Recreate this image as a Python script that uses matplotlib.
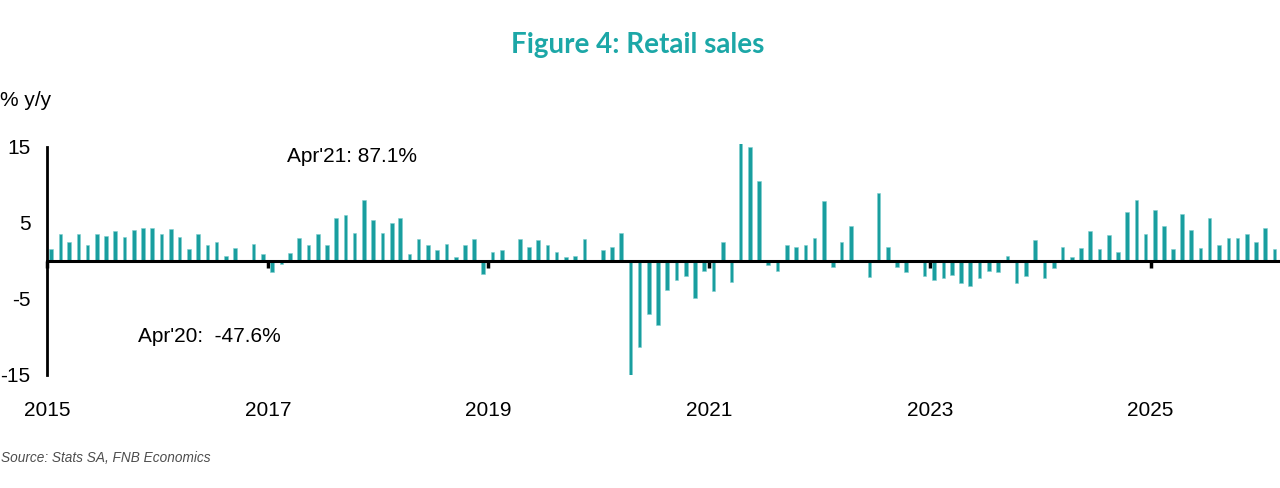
import numpy as np
import pandas as pd
import matplotlib as mpl
mpl.use("Agg")
import matplotlib.pyplot as plt

mpl.rcParams.update({
    "font.family": ["Liberation Sans", "DejaVu Sans"],
    "axes.unicode_minus": False,
})

# ===== DATA (retail sales, % y/y, monthly) =====
START = "2015-01-01"
y2015 = [1.6, 3.55, 2.5, 3.55, 2.1, 3.55, 3.3, 3.9, 3.2, 4.1, 4.4, 4.4]
y2016 = [3.55, 4.25, 3.2, 1.6, 3.55, 2.1, 2.5, 0.7, 1.75, 0.05, 2.3, 0.9]
y2017 = [-1.5, -0.35, 1.05, 3.0, 2.1, 3.55, 2.1, 5.7, 6.05, 3.7, 8.0, 5.35]
y2018 = [3.7, 4.95, 5.7, 0.9, 2.85, 2.1, 1.4, 2.3, 0.5, 2.1, 2.85, -1.65]
y2019 = [1.2, 1.4, 0.05, 2.85, 1.9, 2.7, 2.1, 1.2, 0.5, 0.7, 2.85, 0.05]
y2020 = [1.4, 1.9, 3.7, -47.6, -11.3, -7.0, -8.4, -3.8, -2.5, -2.0, -4.9, -1.3]
y2021 = [-4.0, 2.45, -2.8, 87.1, 15.0, 10.5, -0.5, -1.3, 2.1, 1.9, 2.1, 3.0]
y2022 = [7.85, -0.75, 2.45, 4.65, 0.05, -2.15, 8.9, 1.9, -0.75, -1.45, 0.05, -2.0]
y2023 = [-2.55, -2.2, -1.85, -2.9, -3.25, -2.2, -1.3, -1.5, 0.7, -2.9, -2.0, 2.7]
y2024 = [-2.2, -0.9, 1.9, 0.5, 1.75, 3.9, 1.6, 3.4, 1.2, 6.4, 8.0, 3.55]
y2025 = [6.75, 4.65, 1.6, 6.2, 4.1, 1.75, 5.7, 2.1, 3.0, 3.0, 3.55, 2.45]
y2026 = [4.4, 1.6]

YTICKS = [-15, -5, 5, 15]
XTICK_YEARS = [2015, 2017, 2019, 2021, 2023, 2025]

TITLE = "Figure 4: Retail sales"
UNIT = "% y/y"
NOTE_PEAK = "Apr'21: 87.1%"
NOTE_TROUGH = "Apr'20:  -47.6%"
SOURCE = "Source: Stats SA, FNB Economics"

# Colors
CLR_BAR = "#199E9F"
CLR_TITLE = "#1CA7A7"
CLR_SRC = "#4D4D4D"

# ===== BUILD SERIES =====
values = np.array(y2015 + y2016 + y2017 + y2018 + y2019 + y2020
                  + y2021 + y2022 + y2023 + y2024 + y2025 + y2026)
months = pd.date_range(START, periods=len(values), freq="MS") + pd.Timedelta(days=14)

# ===== PLOT =====
fig = plt.figure(figsize=(12.8, 4.88), dpi=100)
ax = fig.add_axes([0.0367, 0.2316, 0.9633, 0.4734])

ax.bar(months, values, width=12, color=CLR_BAR, edgecolor="#7FCFCF",
       linewidth=0.4, zorder=2)

ax.set_xlim(pd.Timestamp("2015-01-01"), pd.Timestamp("2026-03-05"))
ax.set_ylim(-15, 15.4)

for s in ["top", "right"]:
    ax.spines[s].set_visible(False)
ax.spines["bottom"].set_position(("data", 0))
ax.spines["bottom"].set_linewidth(2.2)
ax.spines["bottom"].set_zorder(3)
ax.spines["left"].set_linewidth(2.0)
ax.spines["left"].set_bounds(-15, 15)

ax.set_yticks(YTICKS)
ax.set_yticklabels([str(v) for v in YTICKS])
ax.tick_params(axis="y", length=0, pad=12, labelsize=15)

tick_dates = [pd.Timestamp(f"{y}-01-01") for y in XTICK_YEARS]
ax.set_xticks(tick_dates)
ax.tick_params(axis="x", length=5, width=2.5, direction="out",
               labelbottom=False, color="black")
for d, y in zip(tick_dates, XTICK_YEARS):
    ax.text(d, -0.152, str(y), transform=ax.get_xaxis_transform(),
            ha="center", va="center", fontsize=15)

ax.text(0.1946, 0.944, NOTE_PEAK, transform=ax.transAxes,
        ha="left", va="center", fontsize=15)
ax.text(0.0738, 0.1645, NOTE_TROUGH, transform=ax.transAxes,
        ha="left", va="center", fontsize=15)

fig.text(0.0, 1 - 100 / 488, UNIT, ha="left", va="center", fontsize=15)
fig.text(0.498, 1 - 45 / 488, TITLE, ha="center", va="center",
         fontsize=20, fontweight="bold", color=CLR_TITLE, family="Lato")
fig.text(0.001, 1 - 458 / 488, SOURCE, ha="left", va="center",
         fontsize=9.8, style="italic", color=CLR_SRC)

fig.savefig("out.png", dpi=100)
